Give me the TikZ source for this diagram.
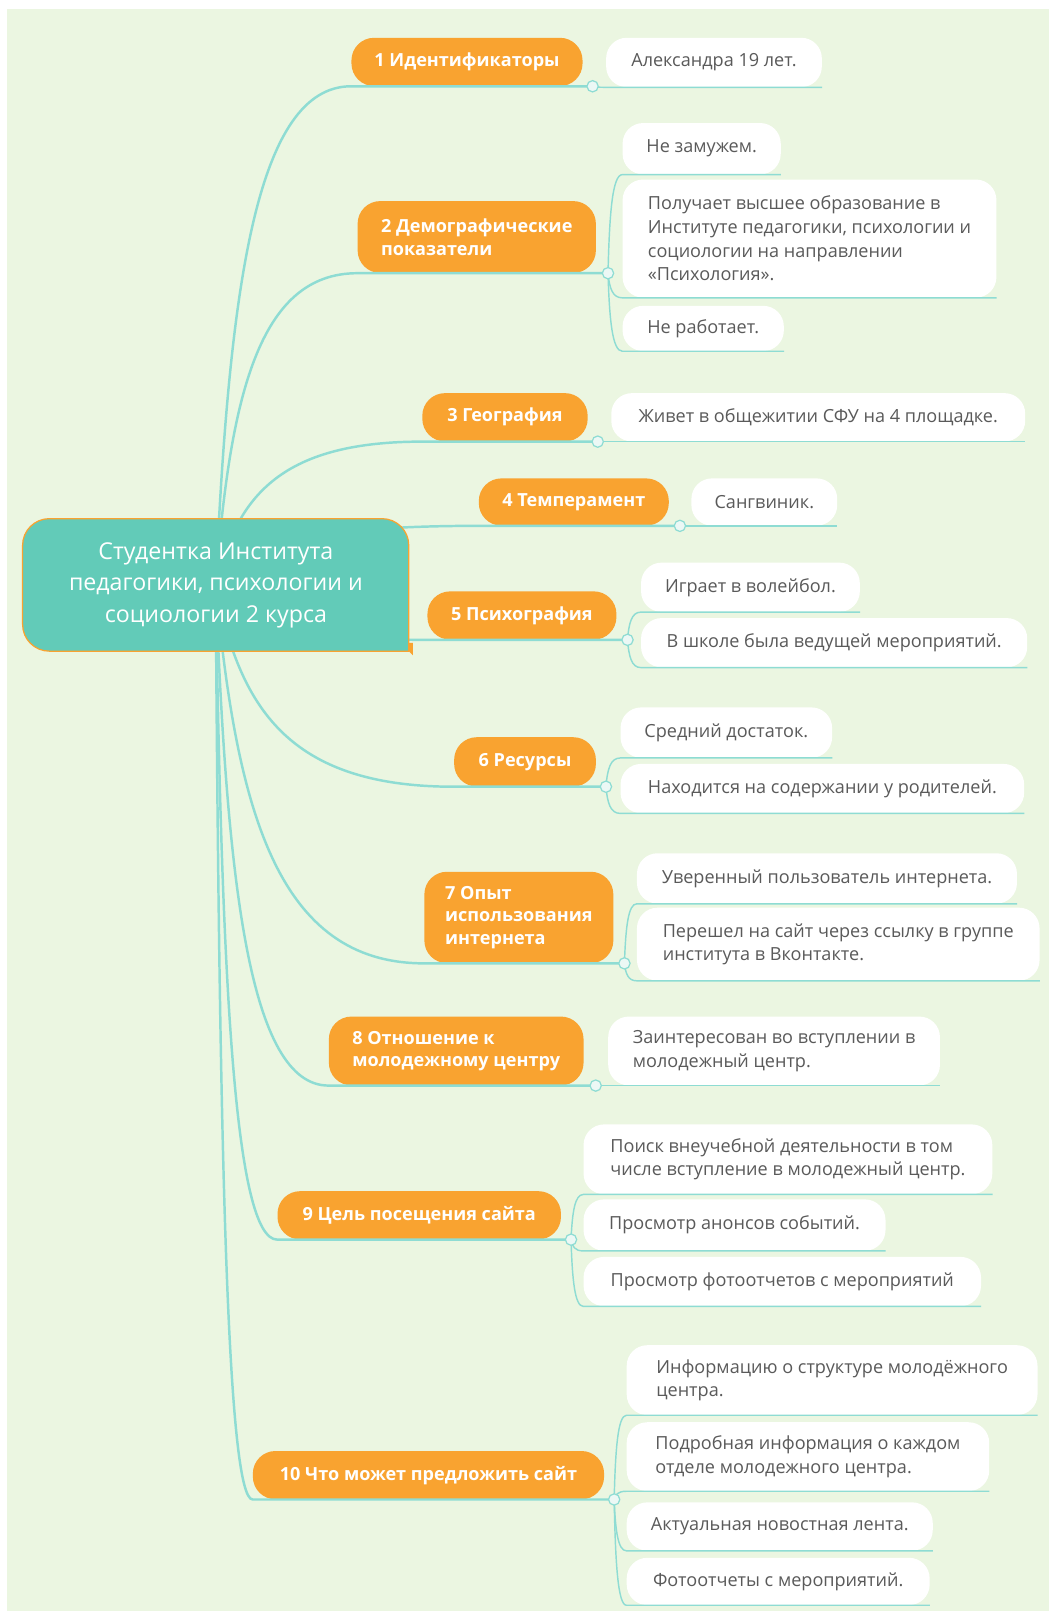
\documentclass[tikz,border=0pt]{standalone}
\usepackage{fontspec}
\setmainfont{Open Sans}
\usetikzlibrary{calc}
\definecolor{bggreen}{RGB}{235,246,225}
\definecolor{topicorange}{RGB}{249,163,48}
\definecolor{rootteal}{RGB}{98,203,184}
\definecolor{linkteal}{RGB}{142,220,211}
\definecolor{leaftext}{RGB}{90,90,90}
\definecolor{knobfill}{RGB}{236,248,245}
\tikzset{
  topicbox/.style={fill=topicorange, rounded corners=22pt, text=white, font=\bfseries\fontsize{17.6}{22}\selectfont, align=left, inner xsep=0pt, inner ysep=0pt},
  leafbox/.style={fill=white, rounded corners=20pt, text=leaftext, font=\fontsize{17.6}{23}\selectfont, align=left, inner xsep=0pt, inner ysep=0pt},
  branchline/.style={draw=linkteal, line width=2.4pt},
  subline/.style={draw=linkteal, line width=1.4pt},
  knob/.style={circle, fill=knobfill, draw=linkteal, line width=1.2pt, minimum size=11pt, inner sep=0pt},
}
\newcommand\topicnode[6]{%
  \pgfmathsetmacro\nw{#3-#2}\pgfmathsetmacro\nh{#5-#4}%
  \node[topicbox, minimum width=\nw pt, minimum height=\nh pt, anchor=south west] (#1) at (#2,#5) {#6};}
\newcommand\leafnode[6]{%
  \pgfmathsetmacro\nw{#3-#2}\pgfmathsetmacro\nh{#5-#4}%
  \node[leafbox, minimum width=\nw pt, minimum height=\nh pt, anchor=south west] (#1) at (#2,#5) {#6};}
\newcommand\curvelink[3][branchline]{%
  \draw[#1] let \p1=(#2), \p2=(#3) in (\p1) .. controls ({\x1+0.1*(\x2-\x1)},{\y1+0.6*(\y2-\y1)}) and ({\x1+0.3*(\x2-\x1)},\y2) .. (\p2)}
\begin{document}
\begin{tikzpicture}[x=1pt,y=-1pt]
\useasboundingbox (0,0) rectangle (1021.4,1568.6);
\fill[white] (0,0) rectangle (1021.4,1568.6);
\fill[bggreen] (7,9) rectangle (1021.4,1568.6);

% topics
\topicnode{t1}{342}{567}{37}{84}{1 Идентификаторы}
\topicnode{t2}{348}{580}{196}{266}{2 Демографические\\показатели}
\topicnode{t3}{411}{572}{383}{430}{3 География}
\topicnode{t4}{466}{651}{466}{512}{4 Темперамент}
\topicnode{t5}{416}{600}{576}{623}{5 Психография}
\topicnode{t6}{442}{580}{718}{766}{6 Ресурсы}
\topicnode{t7}{413}{597}{849}{938}{7 Опыт\\использования\\интернета}
\topicnode{t8}{320}{568}{990}{1057}{8 Отношение к\\молодежному центру}
\topicnode{t9}{270}{546}{1160}{1207}{9 Цель посещения сайта}
\topicnode{t10}{246}{588}{1413}{1460}{10 Что может предложить сайт}

% leaves
\leafnode{c1}{590}{800}{37}{85}{Александра 19 лет.}
\leafnode{c2a}{606}{760}{120}{170}{Не замужем.}
\leafnode{c2b}{606}{970}{175}{290}{Получает высшее образование в\\Институте педагогики, психологии и\\социологии на направлении\\«Психология».}
\leafnode{c2c}{606}{763}{298}{342}{Не работает.}
\leafnode{c3}{595}{998}{383}{430}{Живет в общежитии СФУ на 4 площадке.}
\leafnode{c4}{673}{815}{466}{512}{Сангвиник.}
\leafnode{c5a}{624}{837}{548}{596}{Играет в волейбол.}
\leafnode{c5b}{624}{1000}{602}{650}{В школе была ведущей мероприятий.}
\leafnode{c6a}{604}{810}{689}{738}{Средний достаток.}
\leafnode{c6b}{604}{997}{744}{792}{Находится на содержании у родителей.}
\leafnode{c7a}{620}{990}{831}{880}{Уверенный пользователь интернета.}
\leafnode{c7b}{620}{1012}{884}{955}{Перешел на сайт через ссылку в группе\\института в Вконтакте.}
\leafnode{c8}{592}{915}{990}{1057}{Заинтересован во вступлении в\\молодежный центр.}
\leafnode{c9a}{568}{966}{1095}{1163}{Поиск внеучебной деятельности в том\\числе вступление в молодежный центр.}
\leafnode{c9b}{568}{862}{1168}{1218}{Просмотр анонсов событий.}
\leafnode{c9c}{568}{955}{1224}{1272}{Просмотр фотоотчетов с мероприятий}
\leafnode{c10a}{610}{1010}{1310}{1378}{Информацию о структуре молодёжного\\центра.}
\leafnode{c10b}{610}{963}{1385}{1452}{Подробная информация о каждом\\отделе молодежного центра.}
\leafnode{c10c}{610}{908}{1463}{1510}{Актуальная новостная лента.}
\leafnode{c10d}{610}{905}{1517}{1563}{Фотоотчеты с мероприятий.}

% knobs positions
\coordinate (k1) at (577,84);
\coordinate (k2) at (592,266);
\coordinate (k3) at (582,430);
\coordinate (k4) at (662,512);
\coordinate (k5) at (611,623);
\coordinate (k6) at (590,766);
\coordinate (k7) at (608,938);
\coordinate (k8) at (580,1057);
\coordinate (k9) at (556,1207);
\coordinate (k10) at (598,1460);
\coordinate (rc) at (210,570);

% branch lines
\foreach \i in {1,...,10}{\curvelink{rc}{t\i.south west} -- (k\i);}

% leaf links
\foreach \k/\c in {1/c1,2/c2a,2/c2b,2/c2c,3/c3,4/c4,5/c5a,5/c5b,6/c6a,6/c6b,7/c7a,7/c7b,8/c8,9/c9a,9/c9b,9/c9c,10/c10a,10/c10b,10/c10c,10/c10d}{
  \curvelink[subline]{k\k}{\c.south west} -- (\c.south east);}

% root
\node[minimum width=376pt, minimum height=129pt, anchor=north west, inner sep=0pt] (root) at (22,505) {};
\fill[topicorange] (390,626) -- (402,626) -- (402,638) -- cycle;
\path[fill=rootteal, draw=topicorange, line width=1.2pt] (210,634) [rounded corners=26pt] -- (22,634) -- (22,505) -- (398,505) -- (398,600) [sharp corners] -- (398,634) -- cycle;
\node[text=white, font=\fontsize{22.6}{30.5}\selectfont, align=center] at (root.center) {Студентка Института\\педагогики, психологии и\\социологии 2 курса};

% knobs
\foreach \i in {1,...,10}{\node[knob] (kn\i) at (k\i) {};}
\end{tikzpicture}
\end{document}
